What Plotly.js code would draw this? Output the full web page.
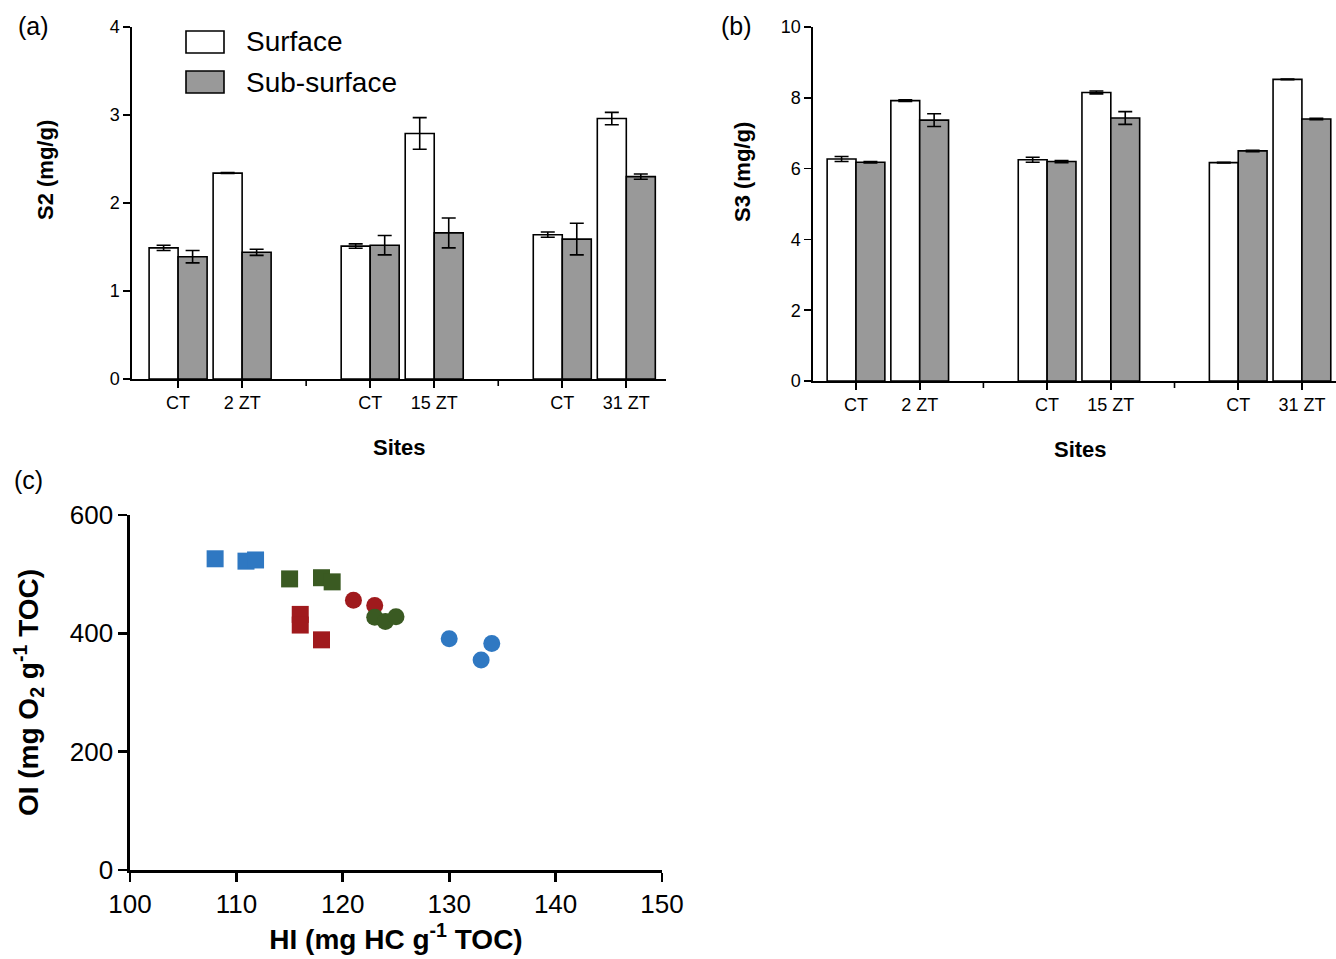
<!DOCTYPE html>
<html>
<head>
<meta charset="utf-8">
<script src="https://cdn.plot.ly/plotly-3.0.1.min.js"></script>
<style>html,body{margin:0;padding:0;background:#fff;}#chart{width:1336px;height:959px;}</style>
</head>
<body>
<div id="chart"></div>
<script>
// ---- Data ----
const siteLabels = ["CT", "2 ZT", "CT", "15 ZT", "CT", "31 ZT"];
const sitePos = [0, 1, 3, 4, 6, 7];
const separatorPos = [2, 5];

const s2Surface = [1.49, 2.34, 1.51, 2.79, 1.64, 2.96];
const s2SurfaceErr = [0.03, 0.005, 0.025, 0.18, 0.03, 0.07];
const s2Sub = [1.39, 1.44, 1.52, 1.66, 1.59, 2.30];
const s2SubErr = [0.07, 0.035, 0.11, 0.17, 0.18, 0.03];

const s3Surface = [6.27, 7.92, 6.25, 8.15, 6.17, 8.52];
const s3SurfaceErr = [0.07, 0.02, 0.07, 0.04, 0.01, 0.01];
const s3Sub = [6.18, 7.37, 6.20, 7.43, 6.50, 7.40];
const s3SubErr = [0.02, 0.18, 0.03, 0.18, 0.02, 0.02];

// Panel (c): HI (x) and OI (y) groups
const blueSqHI = [108.0, 110.9, 111.8];
const blueSqOI = [526, 522, 524];
const greenSqHI = [115.0, 118.0, 119.0];
const greenSqOI = [492, 494, 487];
const redSqHI = [116.0, 116.0, 118.0];
const redSqOI = [432, 414, 389];
const redCiHI = [121.0, 123.0];
const redCiOI = [456, 447];
const greenCiHI = [123.0, 124.0, 125.0];
const greenCiOI = [427, 420, 428];
const blueCiHI = [130.0, 133.0, 134.0];
const blueCiOI = [391, 355, 383];

// ---- Styles ----
const FONT = "Liberation Sans, Arial, sans-serif";
const W = 1336, H = 959;
const px = v => v / W;
const py = v => 1 - v / H;
const BLUE = "#2f78c2", GREEN = "#3a5a22", RED = "#a01a1d";

function barTrace(y, err, fill, xa, ya, name) {
  return {
    type: "bar", x: sitePos, y: y, name: name, xaxis: xa, yaxis: ya,
    marker: {color: fill, line: {color: "#000", width: 1.6}},
    error_y: {type: "data", array: err, visible: true, color: "#000", thickness: 1.6, width: 7},
    showlegend: false, hoverinfo: "skip"
  };
}

const traces = [
  barTrace(s2Surface, s2SurfaceErr, "#ffffff", "x", "y", "Surface"),
  barTrace(s2Sub, s2SubErr, "#999999", "x", "y", "Sub-surface"),
  barTrace(s3Surface, s3SurfaceErr, "#ffffff", "x2", "y2", "Surface"),
  barTrace(s3Sub, s3SubErr, "#999999", "x2", "y2", "Sub-surface")
];

function scat(x, y, color, symbol, size) {
  return {type: "scatter", mode: "markers", x: x, y: y, xaxis: "x3", yaxis: "y3",
    marker: {color: color, symbol: symbol, size: size, line: {width: 0}},
    showlegend: false, hoverinfo: "skip"};
}
traces.push(scat(blueSqHI, blueSqOI, BLUE, "square", 17));
traces.push(scat(greenSqHI, greenSqOI, GREEN, "square", 17));
traces.push(scat(redSqHI, redSqOI, RED, "square", 17));
traces.push(scat(redCiHI, redCiOI, RED, "circle", 17));
traces.push(scat(greenCiHI, greenCiOI, GREEN, "circle", 17));
traces.push(scat(blueCiHI, blueCiOI, BLUE, "circle", 17));

const barX = {
  tickmode: "array", tickvals: sitePos, ticktext: siteLabels,
  showline: true, linecolor: "#000", linewidth: 1.6, ticks: "outside", ticklen: 7, tickwidth: 1.6, tickcolor: "#000",
  showgrid: false, zeroline: false, tickfont: {family: FONT, size: 18, color: "#000"}
};
const barY = {
  showline: true, linecolor: "#000", linewidth: 1.6, ticks: "outside", ticklen: 7, tickwidth: 1.6, tickcolor: "#000",
  showgrid: false, zeroline: false, tickfont: {family: FONT, size: 18, color: "#000"}
};
const titleFont = {family: FONT, size: 22, color: "#000"};

const layout = {
  width: W, height: H,
  margin: {l: 0, r: 0, t: 0, b: 0},
  paper_bgcolor: "#fff", plot_bgcolor: "rgba(0,0,0,0)",
  showlegend: false,
  barmode: "group", bargap: 0.094, bargroupgap: 0,
  xaxis: Object.assign({}, barX, {domain: [px(132), px(666)], range: [-0.72, 7.62], anchor: "y"}),
  yaxis: Object.assign({}, barY, {domain: [py(379), py(27)], range: [0, 4], dtick: 1, anchor: "x"}),
  xaxis2: Object.assign({}, barX, {domain: [px(813), 1], range: [-0.675, 7.535], anchor: "y2"}),
  yaxis2: Object.assign({}, barY, {domain: [py(381), py(27)], range: [0, 10], dtick: 2, anchor: "x2"}),
  xaxis3: {domain: [px(130), px(662)], range: [100, 150], dtick: 10, anchor: "y3",
    showline: true, linecolor: "#000", linewidth: 2.6, ticks: "outside", ticklen: 9, tickwidth: 2.6, tickcolor: "#000",
    showgrid: false, zeroline: false, tickfont: {family: FONT, size: 26, color: "#000"},
    title: {text: "<b>HI (mg HC g<sup>-1</sup> TOC)</b>", font: {family: FONT, size: 28, color: "#000"}, standoff: 8}},
  yaxis3: {domain: [py(870), py(515)], range: [0, 600], dtick: 200, anchor: "x3",
    showline: true, linecolor: "#000", linewidth: 2.6, ticks: "outside", ticklen: 9, tickwidth: 2.6, tickcolor: "#000",
    showgrid: false, zeroline: false, tickfont: {family: FONT, size: 26, color: "#000"},
    title: {text: "<b>OI (mg O<sub>2</sub> g<sup>-1</sup> TOC)</b>", font: {family: FONT, size: 28, color: "#000"}, standoff: 23}},
  shapes: [],
  annotations: [
    {text: "(a)", xref: "paper", yref: "paper", x: px(16), y: py(10), xanchor: "left", yanchor: "top", showarrow: false, font: {family: FONT, size: 25, color: "#000"}},
    {text: "(b)", xref: "paper", yref: "paper", x: px(719), y: py(10), xanchor: "left", yanchor: "top", showarrow: false, font: {family: FONT, size: 25, color: "#000"}},
    {text: "(c)", xref: "paper", yref: "paper", x: px(12), y: py(464), xanchor: "left", yanchor: "top", showarrow: false, font: {family: FONT, size: 25, color: "#000"}},
    {text: "Surface", xref: "paper", yref: "paper", x: px(244), y: py(42), xanchor: "left", yanchor: "middle", showarrow: false, font: {family: FONT, size: 28, color: "#000"}},
    {text: "Sub-surface", xref: "paper", yref: "paper", x: px(244), y: py(82), xanchor: "left", yanchor: "middle", showarrow: false, font: {family: FONT, size: 28, color: "#000"}},
    {text: "<b>S2 (mg/g)</b>", xref: "paper", yref: "paper", x: px(45), y: py(170), xanchor: "center", yanchor: "middle", textangle: -90, showarrow: false, font: titleFont},
    {text: "<b>S3 (mg/g)</b>", xref: "paper", yref: "paper", x: px(742), y: py(172), xanchor: "center", yanchor: "middle", textangle: -90, showarrow: false, font: titleFont},
    {text: "<b>Sites</b>", xref: "paper", yref: "paper", x: px(400), y: py(447), xanchor: "center", yanchor: "middle", showarrow: false, font: titleFont},
    {text: "<b>Sites</b>", xref: "paper", yref: "paper", x: px(1080), y: py(449), xanchor: "center", yanchor: "middle", showarrow: false, font: titleFont}
  ]
};

// legend boxes
layout.shapes.push({type: "rect", xref: "paper", yref: "paper", x0: px(186), x1: px(224), y0: py(31), y1: py(53), fillcolor: "#fff", line: {color: "#000", width: 1.6}});
layout.shapes.push({type: "rect", xref: "paper", yref: "paper", x0: px(186), x1: px(224), y0: py(71), y1: py(93), fillcolor: "#999999", line: {color: "#000", width: 1.6}});
// group separator ticks
separatorPos.forEach(s => {
  layout.shapes.push({type: "line", xref: "x", yref: "paper", x0: s, x1: s, y0: py(379), y1: py(386), line: {color: "#000", width: 1.6}});
  layout.shapes.push({type: "line", xref: "x2", yref: "paper", x0: s, x1: s, y0: py(381), y1: py(388), line: {color: "#000", width: 1.6}});
});

Plotly.newPlot("chart", traces, layout, {staticPlot: true, displayModeBar: false});
</script>
</body>
</html>
